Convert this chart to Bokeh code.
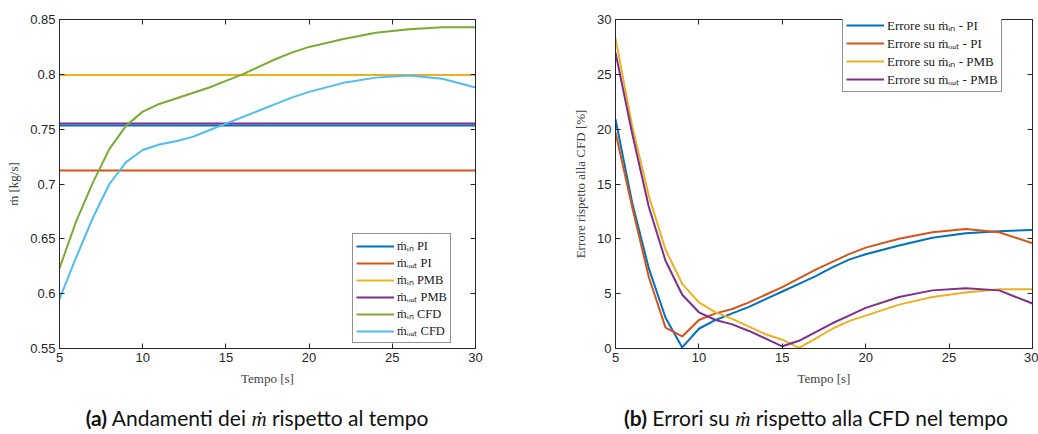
from bokeh.plotting import figure
from bokeh.models import LinearAxis, Legend, LegendItem, FixedTicker, Div, Spacer, Range1d
from bokeh.layouts import row, column
from bokeh.embed import file_html
from bokeh.resources import INLINE

# ---------------- data ----------------
t = [5, 6, 7, 8, 9, 10, 11, 12, 13, 14, 15, 16, 17, 18, 19, 20, 22, 24, 26, 28, 30]

min_pi = 0.7534
mout_pi = 0.7123
min_pmb = 0.7993
mout_pmb = 0.7552
min_cfd = [0.623, 0.666, 0.701, 0.732, 0.753, 0.766, 0.773, 0.778, 0.783, 0.788, 0.794,
           0.800, 0.807, 0.814, 0.820, 0.825, 0.832, 0.838, 0.841, 0.843, 0.843]
mout_cfd = [0.595, 0.633, 0.669, 0.700, 0.720, 0.731, 0.736, 0.739, 0.743, 0.749, 0.755,
            0.761, 0.767, 0.773, 0.779, 0.784, 0.792, 0.797, 0.799, 0.796, 0.788]

err_min_pi = [20.9, 13.3, 7.3, 2.8, 0.1, 1.8, 2.6, 3.2, 3.8, 4.5, 5.2,
              5.9, 6.6, 7.4, 8.1, 8.6, 9.4, 10.1, 10.5, 10.7, 10.8]
err_mout_pi = [19.7, 12.9, 6.5, 1.9, 1.1, 2.6, 3.2, 3.6, 4.2, 4.9, 5.6,
               6.4, 7.2, 7.9, 8.6, 9.2, 10.0, 10.6, 10.9, 10.6, 9.6]
err_min_pmb = [28.3, 20.3, 13.9, 9.0, 5.9, 4.2, 3.3, 2.7, 2.0, 1.3, 0.8,
               0.05, 0.9, 1.8, 2.5, 3.0, 4.0, 4.7, 5.1, 5.4, 5.4]
err_mout_pmb = [27.0, 19.6, 12.9, 8.0, 4.9, 3.3, 2.6, 2.2, 1.6, 0.9, 0.2,
                0.7, 1.5, 2.3, 3.0, 3.7, 4.7, 5.3, 5.5, 5.3, 4.1]

x_ticks = [5, 10, 15, 20, 25, 30]
y1_ticks = [0.55, 0.6, 0.65, 0.7, 0.75, 0.8, 0.85]
y1_labels = ["0.55", "0.6", "0.65", "0.7", "0.75", "0.8", "0.85"]
y2_ticks = [0, 5, 10, 15, 20, 25, 30]

leg1 = ["ṁᵢₙ PI", "ṁₒᵤₜ PI", "ṁᵢₙ PMB", "ṁₒᵤₜ PMB", "ṁᵢₙ CFD", "ṁₒᵤₜ CFD"]
leg2 = ["Errore su ṁᵢₙ - PI", "Errore su ṁₒᵤₜ - PI", "Errore su ṁᵢₙ - PMB", "Errore su ṁₒᵤₜ - PMB"]

C = ["#0072BD", "#D95319", "#EDB120", "#7E2F8E", "#77AC30", "#4DBEEE"]

AX = "#262626"
SERIF = "Liberation Serif"
SANS = "Liberation Sans"


def style_axis(ax, labels=True):
    ax.axis_line_color = AX
    ax.axis_line_width = 1
    ax.major_tick_line_color = AX
    ax.major_tick_in = 5
    ax.major_tick_out = 0
    ax.minor_tick_line_color = None
    ax.major_label_text_font = SANS
    ax.major_label_text_color = AX
    ax.major_label_text_font_size = "13px"
    ax.major_label_standoff = 4
    ax.axis_label_text_font = SERIF
    ax.axis_label_text_font_style = "normal"
    ax.axis_label_text_font_size = "13px"
    ax.axis_label_text_color = "#404040"
    ax.axis_label_standoff = 6
    if not labels:
        ax.major_label_text_font_size = "0px"
        ax.major_label_text_color = None
        ax.major_label_standoff = 0


def make_fig(width, bl, br, xr, yr, xt, yt, xlabel, ylabel):
    p = figure(width=width, height=398, x_range=xr, y_range=yr,
               output_backend="svg", toolbar_location=None,
               min_border_left=bl, min_border_right=br,
               min_border_top=19, min_border_bottom=50,
               x_axis_label=xlabel, y_axis_label=ylabel)
    p.grid.visible = False
    p.outline_line_color = None
    p.background_fill_color = "white"
    p.xaxis.ticker = FixedTicker(ticks=xt)
    p.yaxis.ticker = FixedTicker(ticks=yt)
    style_axis(p.xaxis[0])
    style_axis(p.yaxis[0])
    top = LinearAxis(ticker=FixedTicker(ticks=xt))
    right = LinearAxis(ticker=FixedTicker(ticks=yt))
    style_axis(top, labels=False)
    style_axis(right, labels=False)
    p.add_layout(top, "above")
    p.add_layout(right, "right")
    return p


# ---------------- left figure ----------------
p1 = make_fig(540, 59, 65, Range1d(5, 30), Range1d(0.55, 0.85), x_ticks, y1_ticks,
              "Tempo [s]", "ṁ [kg/s]")
p1.yaxis[0].major_label_overrides = {v: s for v, s in zip(y1_ticks, y1_labels)}

xs_const = [t[0], t[-1]]
r1 = [
    p1.line(xs_const, [min_pi, min_pi], line_color=C[0], line_width=2),
    p1.line(xs_const, [mout_pi, mout_pi], line_color=C[1], line_width=2),
    p1.line(xs_const, [min_pmb, min_pmb], line_color=C[2], line_width=2),
    p1.line(xs_const, [mout_pmb, mout_pmb], line_color=C[3], line_width=2),
    p1.line(t, min_cfd, line_color=C[4], line_width=2),
    p1.line(t, mout_cfd, line_color=C[5], line_width=2),
]


def style_legend(lg):
    lg.label_text_font = SERIF
    lg.label_text_font_size = "12.5px"
    lg.label_text_line_height = 1.0
    lg.label_text_color = "#1a1a1a"
    lg.glyph_width = 38
    lg.glyph_height = 12
    lg.label_height = 12
    lg.label_standoff = 3
    lg.spacing = -1
    lg.padding = 3
    lg.margin = 0
    lg.border_line_color = AX
    lg.border_line_width = 1
    lg.background_fill_color = "white"
    lg.background_fill_alpha = 1


legend1 = Legend(items=[LegendItem(label=l, renderers=[r]) for l, r in zip(leg1, r1)],
                 location=(293, 5))
style_legend(legend1)
p1.add_layout(legend1, "center")

# ---------------- right figure ----------------
p2 = make_fig(498, 75, 6, Range1d(5, 30), Range1d(0, 30), x_ticks, y2_ticks,
              "Tempo [s]", "Errore rispetto alla CFD [%]")
r2 = [
    p2.line(t, err_min_pi, line_color=C[0], line_width=2),
    p2.line(t, err_mout_pi, line_color=C[1], line_width=2),
    p2.line(t, err_min_pmb, line_color=C[2], line_width=2),
    p2.line(t, err_mout_pmb, line_color=C[3], line_width=2),
]
legend2 = Legend(items=[LegendItem(label=l, renderers=[r]) for l, r in zip(leg2, r2)],
                 location=(227, 256))
style_legend(legend2)
legend2.label_text_font_size = "13px"
p2.add_layout(legend2, "center")

# ---------------- captions ----------------
cap_style = {"font-family": "Lato", "font-size": "21px", "text-align": "center",
             "color": "#111111", "white-space": "nowrap"}
m_span = '<span style="font-family: \'Liberation Serif\'; font-style: italic;">ṁ</span>'
div1 = Div(text="<b>(a)</b> Andamenti dei " + m_span + " rispetto al tempo",
           width=504, height=30, styles=cap_style)
div2 = Div(text="<b>(b)</b> Errori su " + m_span + " rispetto alla CFD nel tempo",
           width=430, height=30, styles=cap_style)
sp = Spacer(width=82, height=30)

layout = column(row(p1, p2), row(div1, sp, div2))

open("out.html", "w").write(file_html(layout, INLINE))
